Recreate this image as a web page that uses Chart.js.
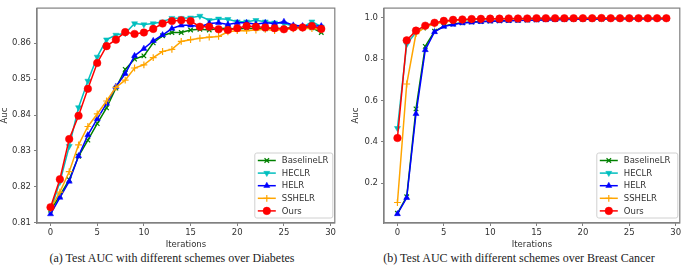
<!DOCTYPE html>
<html>
<head>
<meta charset="utf-8">
<script src="https://cdn.jsdelivr.net/npm/chart.js@4/dist/chart.umd.min.js"></script>
<style>
  html, body { margin: 0; padding: 0; background: #fff; }
  #wrap { position: relative; width: 685px; height: 267px; overflow: hidden; background: #fff; }
  canvas { position: absolute; top: 0; }
  .cap { position: absolute; top: 251px; font-family: "Liberation Serif", "DejaVu Serif", serif; font-size: 12px; color: #222; white-space: nowrap; transform: translateX(-50%); }
</style>
</head>
<body>
<div id="wrap">
  <canvas id="c1" width="340" height="250" style="left:0px"></canvas>
  <canvas id="c2" width="340" height="250" style="left:345px"></canvas>
  <div class="cap" style="left:172px">(a) Test AUC with different schemes over Diabetes</div>
  <div class="cap" style="left:519px">(b) Test AUC with different schemes over Breast Cancer</div>
</div>
<script>
const iterations = [0,1,2,3,4,5,6,7,8,9,10,11,12,13,14,15,16,17,18,19,20,21,22,23,24,25,26,27,28,29];
const seriesNames = ["BaselineLR", "HECLR", "HELR", "SSHELR", "Ours"];
const xTicks = [0, 5, 10, 15, 20, 25, 30];

// (a) Diabetes
const diabetesBaselineLR = [0.8135,0.8175,0.8220,0.8285,0.8330,0.8376,0.8420,0.8475,0.8527,0.8556,0.8565,0.8601,0.8621,0.8630,0.8630,0.8637,0.8639,0.8637,0.8641,0.8642,0.8640,0.8642,0.8641,0.8640,0.8641,0.8642,0.8643,0.8644,0.8643,0.8630];
const diabetesHECLR = [0.8135,0.8213,0.8313,0.8421,0.8495,0.8562,0.8610,0.8623,0.8628,0.8655,0.8652,0.8655,0.8660,0.8670,0.8670,0.8671,0.8676,0.8664,0.8668,0.8667,0.8660,0.8660,0.8664,0.8660,0.8657,0.8655,0.8648,0.8644,0.8660,0.8646];
const diabetesHELR = [0.8124,0.8170,0.8215,0.8286,0.8344,0.8389,0.8432,0.8479,0.8515,0.8565,0.8585,0.8607,0.8623,0.8641,0.8650,0.8650,0.8646,0.8655,0.8657,0.8652,0.8657,0.8657,0.8653,0.8657,0.8655,0.8660,0.8650,0.8648,0.8648,0.8648];
const diabetesSSHELR = [0.8140,0.8185,0.8242,0.8317,0.8368,0.8403,0.8439,0.8477,0.8497,0.8531,0.8540,0.8560,0.8577,0.8583,0.8605,0.8610,0.8614,0.8617,0.8619,0.8632,0.8635,0.8635,0.8637,0.8639,0.8635,0.8639,0.8640,0.8642,0.8641,0.8639];
const diabetesOurs = [0.8143,0.8221,0.8333,0.8398,0.8473,0.8545,0.8592,0.8610,0.8631,0.8626,0.8630,0.8640,0.8655,0.8662,0.8664,0.8662,0.8646,0.8646,0.8639,0.8637,0.8642,0.8648,0.8646,0.8644,0.8642,0.8639,0.8644,0.8644,0.8648,0.8640];
const diabetesYTicks = [0.81, 0.82, 0.83, 0.84, 0.85, 0.86];

// (b) Breast Cancer
const cancerBaselineLR = [0.055,0.135,0.560,0.862,0.935,0.960,0.970,0.976,0.980,0.982,0.984,0.985,0.987,0.988,0.989,0.990,0.991,0.992,0.992,0.993,0.993,0.994,0.994,0.995,0.995,0.995,0.996,0.996,0.996,0.996];
const cancerHECLR = [0.466,0.872,0.930,0.955,0.972,0.982,0.988,0.990,0.992,0.994,0.995,0.995,0.996,0.996,0.997,0.997,0.997,0.997,0.997,0.998,0.998,0.998,0.998,0.998,0.998,0.998,0.998,0.998,0.998,0.998];
const cancerHELR = [0.052,0.130,0.536,0.845,0.932,0.958,0.968,0.975,0.978,0.981,0.983,0.985,0.986,0.987,0.988,0.989,0.990,0.991,0.992,0.993,0.993,0.994,0.994,0.995,0.995,0.995,0.996,0.996,0.996,0.996];
const cancerSSHELR = [0.107,0.680,0.924,0.955,0.970,0.980,0.986,0.989,0.991,0.993,0.994,0.995,0.995,0.996,0.996,0.997,0.997,0.997,0.997,0.997,0.998,0.998,0.998,0.998,0.998,0.998,0.998,0.998,0.998,0.998];
const cancerOurs = [0.419,0.891,0.938,0.962,0.976,0.985,0.990,0.992,0.994,0.995,0.996,0.996,0.997,0.997,0.997,0.998,0.998,0.998,0.998,0.998,0.998,0.998,0.999,0.998,0.998,0.998,0.998,0.998,0.998,0.998];
const cancerYTicks = [0.2, 0.4, 0.6, 0.8, 1.0];

const styles = [
  { color: "#008000", pointStyle: "crossRot", rotation: 0, radius: 3.2 },
  { color: "#00bfbf", pointStyle: "triangle", rotation: 180, radius: 3.5 },
  { color: "#0000ff", pointStyle: "triangle", rotation: 0, radius: 3.5 },
  { color: "#ffa500", pointStyle: "cross", rotation: 0, radius: 3.4 },
  { color: "#ff0000", pointStyle: "circle", rotation: 0, radius: 3.8 }
];

const FONT = "'DejaVu Sans', sans-serif";
const FRAME = "#808080";

function makeDatasets(arrays) {
  return arrays.map((arr, i) => {
    const s = styles[i];
    const filled = s.pointStyle === "circle" || s.pointStyle === "triangle";
    return {
      label: seriesNames[i],
      data: iterations.map((x, k) => ({ x: x, y: arr[k] })),
      borderColor: s.color,
      backgroundColor: s.color,
      pointBackgroundColor: s.color,
      pointBorderColor: s.color,
      pointStyle: s.pointStyle,
      pointRotation: s.rotation,
      pointRadius: s.radius,
      pointBorderWidth: filled ? 0.5 : 1.2,
      borderWidth: 1.5,
      tension: 0,
      order: arrays.length - i
    };
  });
}

const framePlugin = {
  id: "frameLegend",
  afterDraw(chart) {
    const ctx = chart.ctx;
    const a = chart.chartArea;
    ctx.save();
    ctx.strokeStyle = FRAME;
    ctx.lineWidth = 1.2;
    ctx.strokeRect(a.left, a.top, a.right - a.left, a.bottom - a.top);
    const w = chart.options.plugins.frameLegend.width;
    const h = 65;
    const x0 = a.right - 2 - w;
    const y0 = a.bottom - 5 - h;
    ctx.beginPath();
    const r = 2;
    ctx.moveTo(x0 + r, y0);
    ctx.lineTo(x0 + w - r, y0); ctx.quadraticCurveTo(x0 + w, y0, x0 + w, y0 + r);
    ctx.lineTo(x0 + w, y0 + h - r); ctx.quadraticCurveTo(x0 + w, y0 + h, x0 + w - r, y0 + h);
    ctx.lineTo(x0 + r, y0 + h); ctx.quadraticCurveTo(x0, y0 + h, x0, y0 + h - r);
    ctx.lineTo(x0, y0 + r); ctx.quadraticCurveTo(x0, y0, x0 + r, y0);
    ctx.closePath();
    ctx.fillStyle = "rgba(255,255,255,0.85)";
    ctx.fill();
    ctx.strokeStyle = "#d0d0d0";
    ctx.lineWidth = 1;
    ctx.stroke();
    chart.data.datasets.forEach((ds, i) => {
      const yy = y0 + 7.5 + i * 12.6;
      const lx1 = x0 + 3, lx2 = x0 + 21;
      ctx.strokeStyle = ds.borderColor;
      ctx.lineWidth = 1.5;
      ctx.beginPath(); ctx.moveTo(lx1, yy); ctx.lineTo(lx2, yy); ctx.stroke();
      ctx.fillStyle = ds.pointBackgroundColor;
      ctx.strokeStyle = ds.pointBorderColor;
      ctx.lineWidth = ds.pointBorderWidth;
      if (Chart.helpers && Chart.helpers.drawPoint) {
        Chart.helpers.drawPoint(ctx, { pointStyle: ds.pointStyle, rotation: ds.pointRotation, radius: ds.pointRadius, borderWidth: ds.pointBorderWidth }, (lx1 + lx2) / 2, yy);
      }
      ctx.fillStyle = "#333";
      ctx.font = "8.5px " + FONT;
      ctx.textBaseline = "middle";
      ctx.textAlign = "left";
      ctx.fillText(ds.label, x0 + 27, yy + 0.5);
    });
    ctx.restore();
  }
};

function makeChart(id, arrays, yMin, yMax, yTicks, decimals, titlePad, legendW, padRight, yWidth) {
  new Chart(document.getElementById(id), {
    type: "line",
    data: { datasets: makeDatasets(arrays) },
    options: {
      responsive: false,
      animation: false,
      layout: { padding: { top: 2, right: padRight, bottom: 0, left: 0 } },
      plugins: { legend: { display: false }, tooltip: { enabled: false }, frameLegend: { width: legendW } },
      scales: {
        x: {
          type: "linear",
          min: -1.45, max: 30.45,
          afterBuildTicks: s => { s.ticks = xTicks.map(v => ({ value: v })); },
          afterFit: s => { s.height = 27; },
          grid: { display: true, drawOnChartArea: false, drawTicks: true, tickLength: 3, color: FRAME },
          border: { display: true, color: FRAME, width: 1.2 },
          ticks: { font: { family: FONT, size: 8.5 }, color: "#333", padding: 2, maxRotation: 0, callback: v => String(v) },
          title: { display: true, text: "Iterations", font: { family: FONT, size: 8.5 }, color: "#333", padding: { top: 0, bottom: 0 } }
        },
        y: {
          type: "linear",
          min: yMin, max: yMax,
          afterBuildTicks: s => { s.ticks = yTicks.map(v => ({ value: v })); },
          afterFit: s => { s.width = yWidth; },
          grid: { display: true, drawOnChartArea: false, drawTicks: true, tickLength: 3, color: FRAME },
          border: { display: true, color: FRAME, width: 1.2 },
          ticks: { font: { family: FONT, size: 8.5 }, color: "#333", padding: 3, callback: v => Number(v).toFixed(decimals) },
          title: { display: true, text: "Auc", font: { family: FONT, size: 8.5 }, color: "#333", padding: { top: titlePad, bottom: 0 } }
        }
      }
    },
    plugins: [framePlugin]
  });
}

makeChart("c1", [diabetesBaselineLR, diabetesHECLR, diabetesHELR, diabetesSSHELR, diabetesOurs], 0.8099, 0.8698, diabetesYTicks, 2, 0, 78, 5, 37);
makeChart("c2", [cancerBaselineLR, cancerHECLR, cancerHELR, cancerSSHELR, cancerOurs], 0.008, 1.047, cancerYTicks, 1, 6, 81, 1, 39);
</script>
</body>
</html>
